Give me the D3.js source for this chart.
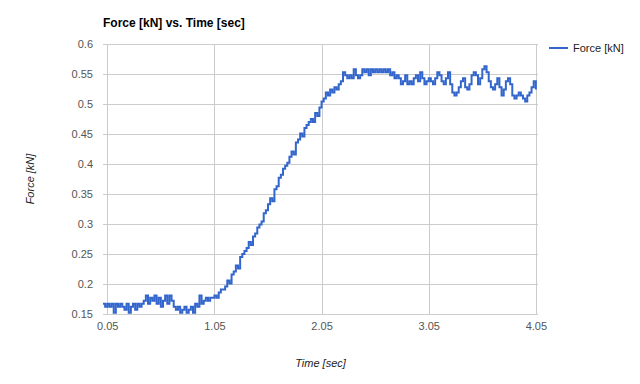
<!DOCTYPE html>
<html>
<head>
  <meta charset="utf-8">
  <script src="https://d3js.org/d3.v7.min.js"></script>
  <style>
    body { margin: 0; background: #fff; }
    svg text { font-family: Arial, "Liberation Sans", sans-serif; }
    .grid line { stroke: #cccccc; stroke-width: 1; shape-rendering: crispEdges; }
    .grid .domain { display: none; }
    .grid text { fill: #555; font-size: 11px; }
  </style>
</head>
<body>
<script>
  "use strict";

  /*
    Data: time in seconds, force in kN
  */
  var times = [
    0.01,0.03,0.05,0.07,0.09,0.11,0.13,0.15,0.17,0.19,
    0.21,0.23,0.25,0.27,0.29,0.31,0.33,0.35,0.37,0.39,
    0.41,0.43,0.45,0.47,0.49,0.51,0.53,0.55,0.57,0.59,
    0.61,0.63,0.65,0.67,0.69,0.71,0.73,0.75,0.77,0.79,
    0.81,0.83,0.85,0.87,0.89,0.91,0.93,0.95,0.97,0.99,
    1.01,1.03,1.05,1.07,1.09,1.11,1.13,1.15,1.17,1.19,
    1.21,1.23,1.25,1.27,1.29,1.31,1.33,1.35,1.37,1.39,
    1.41,1.43,1.45,1.47,1.49,1.51,1.53,1.55,1.57,1.59,
    1.61,1.63,1.65,1.67,1.69,1.71,1.73,1.75,1.77,1.79,
    1.81,1.83,1.85,1.87,1.89,1.91,1.93,1.95,1.97,1.99,
    2.01,2.03,2.05,2.07,2.09,2.11,2.13,2.15,2.17,2.19,
    2.21,2.23,2.25,2.27,2.29,2.31,2.33,2.35,2.37,2.39,
    2.41,2.43,2.45,2.47,2.49,2.51,2.53,2.55,2.57,2.59,
    2.61,2.63,2.65,2.67,2.69,2.71,2.73,2.75,2.77,2.79,
    2.81,2.83,2.85,2.87,2.89,2.91,2.93,2.95,2.97,2.99,
    3.01,3.03,3.05,3.07,3.09,3.11,3.13,3.15,3.17,3.19,
    3.21,3.23,3.25,3.27,3.29,3.31,3.33,3.35,3.37,3.39,
    3.41,3.43,3.45,3.47,3.49,3.51,3.53,3.55,3.57,3.59,
    3.61,3.63,3.65,3.67,3.69,3.71,3.73,3.75,3.77,3.79,
    3.81,3.83,3.85,3.87,3.89,3.91,3.93,3.95,3.97,3.99,
    4.01,4.03,4.05
  ];

  var force = [
    0.167,0.162,0.167,0.162,0.167,0.152,0.167,0.162,0.167,0.162,
    0.157,0.167,0.152,0.162,0.167,0.157,0.167,0.162,0.167,0.172,
    0.181,0.167,0.177,0.172,0.181,0.167,0.177,0.162,0.172,0.181,
    0.167,0.181,0.172,0.162,0.157,0.162,0.152,0.157,0.162,0.152,
    0.157,0.162,0.152,0.167,0.162,0.181,0.167,0.172,0.177,0.172,
    0.177,0.177,0.181,0.177,0.186,0.191,0.191,0.196,0.206,0.201,
    0.216,0.221,0.231,0.226,0.245,0.250,0.255,0.260,0.270,0.265,
    0.279,0.284,0.294,0.299,0.304,0.318,0.323,0.333,0.343,0.338,
    0.358,0.363,0.377,0.382,0.392,0.397,0.402,0.412,0.421,0.416,
    0.436,0.441,0.451,0.446,0.460,0.465,0.470,0.475,0.470,0.485,
    0.480,0.494,0.504,0.509,0.519,0.514,0.524,0.519,0.528,0.524,
    0.533,0.538,0.553,0.548,0.543,0.548,0.543,0.558,0.548,0.543,
    0.548,0.558,0.553,0.558,0.548,0.558,0.553,0.558,0.553,0.558,
    0.553,0.558,0.553,0.558,0.548,0.553,0.543,0.548,0.543,0.533,
    0.538,0.548,0.533,0.538,0.533,0.543,0.548,0.538,0.553,0.543,
    0.533,0.538,0.543,0.538,0.533,0.543,0.553,0.548,0.538,0.533,
    0.543,0.553,0.533,0.519,0.514,0.519,0.528,0.538,0.543,0.528,
    0.524,0.533,0.548,0.553,0.548,0.533,0.543,0.558,0.563,0.553,
    0.538,0.528,0.524,0.533,0.543,0.528,0.514,0.524,0.538,0.543,
    0.533,0.514,0.509,0.514,0.519,0.514,0.509,0.504,0.514,0.519,
    0.528,0.538,0.524
  ];

  var xTicks = [0.05, 1.05, 2.05, 3.05, 4.05];
  var yTicks = [0.15, 0.2, 0.25, 0.3, 0.35, 0.4, 0.45, 0.5, 0.55, 0.6];

  var seriesName = "Force [kN]";

  function draw() {
    /*
      Chart setup
    */
    var width = 640, height = 384;
    var pLeft = 103, pRight = 538, pTop = 44, pBottom = 314;

    var svg = d3.select("body")
      .append("svg")
        .attr("width", width)
        .attr("height", height);

    var x = d3.scaleLinear().domain([0.01, 4.07]).range([pLeft, pRight]);
    var y = d3.scaleLinear().domain([0.15, 0.6]).range([pBottom, pTop]);

    // horizontal gridlines + y labels
    svg.append("g")
        .attr("class", "grid")
        .attr("transform", "translate(" + pLeft + ",0)")
        .call(d3.axisLeft(y)
          .tickValues(yTicks)
          .tickSize(-(pRight - pLeft))
          .tickPadding(10)
          .tickFormat(function(d) { return String(+d.toFixed(2)); }));

    // vertical gridlines + x labels
    svg.append("g")
        .attr("class", "grid")
        .attr("transform", "translate(0," + pBottom + ")")
        .call(d3.axisBottom(x)
          .tickValues(xTicks)
          .tickSize(-(pBottom - pTop))
          .tickPadding(8)
          .tickFormat(d3.format(".2f")));

    // the series, drawn as steps like the sampled signal
    var data = force.map(function(v, i) { return [times[i], v]; });

    svg.append("path")
        .datum(data)
        .attr("fill", "none")
        .attr("stroke", "#3366cc")
        .attr("stroke-width", 2)
        .attr("d", d3.line()
          .curve(d3.curveStepAfter)
          .x(function(d) { return x(d[0]); })
          .y(function(d) { return y(d[1]); }));

    // title
    svg.append("text")
        .attr("x", pLeft)
        .attr("y", 27)
        .style("font-size", "12px")
        .style("font-weight", "bold")
        .style("fill", "#000")
        .text("Force [kN] vs. Time [sec]");

    // axis titles
    svg.append("text")
        .attr("transform", "translate(34," + ((pTop + pBottom) / 2) + ") rotate(-90)")
        .style("text-anchor", "middle")
        .style("font-size", "11px")
        .style("font-style", "italic")
        .style("fill", "#222")
        .text("Force [kN]");

    svg.append("text")
        .attr("x", (pLeft + pRight) / 2)
        .attr("y", 367)
        .style("text-anchor", "middle")
        .style("font-size", "11px")
        .style("font-style", "italic")
        .style("fill", "#222")
        .text("Time [sec]");

    // legend
    var legend = svg.append("g").attr("transform", "translate(549,48)");
    legend.append("line")
        .attr("x1", 0).attr("x2", 19)
        .attr("y1", 0).attr("y2", 0)
        .attr("stroke", "#3366cc")
        .attr("stroke-width", 2);
    legend.append("text")
        .attr("x", 24)
        .attr("y", 4)
        .style("font-size", "11px")
        .style("fill", "#222")
        .text(seriesName);
  }

  draw();
</script>
</body>
</html>
